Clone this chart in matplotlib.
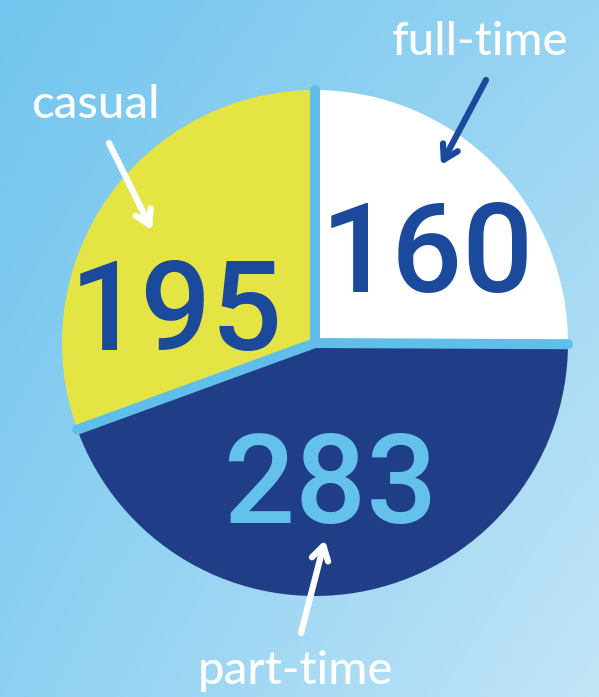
import numpy as np
import matplotlib
matplotlib.use("Agg")
import matplotlib.pyplot as plt

# ---- data ----
categories = ["full-time", "part-time", "casual"]
values = [160, 283, 195]
colors = ["#ffffff", "#1f3e87", "#e4e445"]
number_colors = ["#1b4a9d", "#63c1ec", "#1b4a9d"]

W, H = 599, 697
fig = plt.figure(figsize=(W / 100, H / 100), dpi=100)
ax = fig.add_axes([0, 0, 1, 1])

# background gradient (diagonal, light blue)
tl = np.array([114, 197, 238]) / 255
tr = np.array([152, 212, 242]) / 255
bl = np.array([141, 208, 242]) / 255
br = np.array([194, 229, 247]) / 255
u = np.linspace(0, 1, 200)[None, :, None]
v = np.linspace(0, 1, 200)[:, None, None]
grad = (1 - v) * ((1 - u) * tl + u * tr) + v * ((1 - u) * bl + u * br)
ax.imshow(grad, extent=(0, W, 0, H), origin="upper", zorder=0, aspect="auto")

cx, cy, r = 315, H - 343, 253
wedges, _ = ax.pie(values, colors=colors, startangle=90, counterclock=False,
                   center=(cx, cy), radius=r,
                   wedgeprops=dict(linewidth=0, zorder=1))
for w in wedges:
    w.set_zorder(1)

# separator lines at slice boundaries
total = sum(values)
cum = np.concatenate([[0], np.cumsum(values)])
for c in cum[:-1]:
    ang = np.deg2rad(90 - 360 * c / total)
    ax.plot([cx, cx + r * np.cos(ang)], [cy, cy + r * np.sin(ang)],
            color="#5fbfea", lw=7.2, solid_capstyle="round", zorder=2)

# numbers
num_pos = {"full-time": (427, H - 292), "part-time": (331, H - 523), "casual": (176, H - 350)}
for cat, val, col in zip(categories, values, number_colors):
    x, y = num_pos[cat]
    ax.text(x, y, str(val), ha="center", va="baseline", fontsize=90,
            family=["Roboto", "DejaVu Sans"], fontweight="medium",
            color=col, zorder=3)

# labels
label_pos = {"full-time": (480, H - 55), "part-time": (295, H - 684), "casual": (95, H - 118)}
for cat in categories:
    x, y = label_pos[cat]
    ax.text(x, y, cat, ha="center", va="baseline", fontsize=34,
            family=["Lato", "DejaVu Sans"], fontweight="medium",
            color="white", zorder=3)

# arrows (tail -> tip)
arrows = [((486, 80), (441, 165), "#1b4a9d"),
          ((109, 143), (152, 230), "white"),
          ((301, 633), (325, 540), "white")]
for (x0, y0), (x1, y1), col in arrows:
    ax.annotate("", xy=(x1, H - y1), xytext=(x0, H - y0),
                arrowprops=dict(arrowstyle="->,head_length=1.0,head_width=0.6",
                                color=col, lw=4.5, capstyle="round",
                                joinstyle="round", shrinkA=0, shrinkB=0),
                zorder=4)

ax.set_xlim(0, W)
ax.set_ylim(0, H)
ax.set_aspect("auto")
ax.axis("off")
fig.savefig("out.png", dpi=100)
